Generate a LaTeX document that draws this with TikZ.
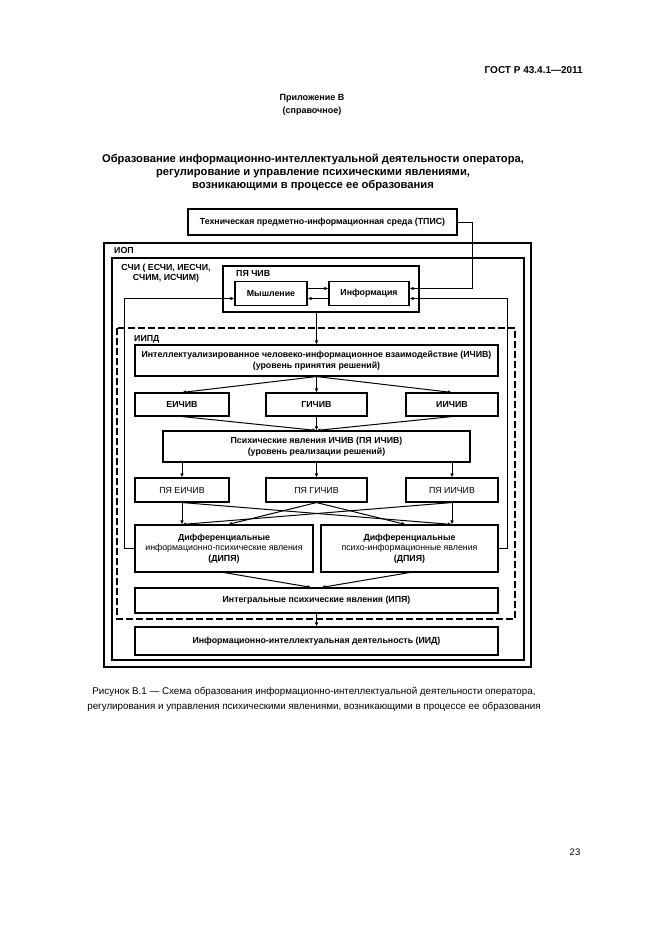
\documentclass[tikz,border=0pt]{standalone}
\usepackage{fontspec}
\setmainfont{Liberation Sans}
\usepackage{tikz}
\usetikzlibrary{arrows.meta}

\tikzset{
  blk/.style={draw, line width=1.1pt, inner sep=0pt, align=center, font=\fontsize{8.8}{10.5}\selectfont\bfseries},
  thinblk/.style={blk, font=\fontsize{8.8}{10.5}\selectfont},
  lbl/.style={inner sep=0pt, align=center, font=\fontsize{8.8}{10.5}\selectfont\bfseries},
  conn/.style={line width=1pt, -{Latex[length=4pt,width=3.5pt]}},
}

\begin{document}
\begin{tikzpicture}[x=1pt,y=-1pt]
\useasboundingbox (0,0) rectangle (661,935);

% page head
\node[inner sep=0pt, anchor=east, font=\fontsize{10}{12}\selectfont\bfseries] (gost) at (583,70) {ГОСТ Р 43.4.1—2011};
\node[inner sep=0pt, align=center, font=\fontsize{9}{13}\selectfont\bfseries] (app) at (312,104.5) {Приложение В\\(справочное)};
\node[inner sep=0pt, align=center, font=\fontsize{11.2}{13}\selectfont\bfseries] (title) at (313,172)
  {Образование информационно-интеллектуальной деятельности оператора,\\регулирование и управление психическими явлениями,\\возникающими в процессе ее образования};

% frames
\draw[line width=1.2pt] (104,243) rectangle (531,667);
\node[lbl, anchor=west] (iop) at (114,250) {ИОП};
\draw[line width=2.6pt] (112,258) rectangle (524,660);
\node[lbl] (schi) at (166,273) {СЧИ ( ЕСЧИ, ИЕСЧИ,\\СЧИМ, ИСЧИМ)};
\draw[line width=1.2pt, dash pattern=on 7pt off 3pt] (117,328) rectangle (515,619);
\node[lbl, anchor=west] (iipd) at (134,339) {ИИПД};

% boxes
\node[blk, minimum width=269pt, minimum height=26pt] (tpis) at (322.5,222) {Техническая предметно-информационная среда (ТПИС)};
\node[draw, line width=1.1pt, minimum width=196pt, minimum height=46pt] (pyachiv) at (321,289) {};
\node[lbl, anchor=west] (pyachivlbl) at (236,273) {ПЯ ЧИВ};
\node[blk, minimum width=72pt, minimum height=24pt] (mysh) at (271,293.5) {Мышление};
\node[blk, minimum width=80pt, minimum height=24pt] (inform) at (369,293.5) {Информация};

\node[blk, minimum width=363pt, minimum height=31pt] (ichiv) at (316.5,360.5) {Интеллектуализированное человеко-информационное взаимодействие (ИЧИВ)\\(уровень принятия решений)};
\node[blk, minimum width=94pt, minimum height=23pt] (eichiv) at (182,404.5) {ЕИЧИВ};
\node[blk, minimum width=101pt, minimum height=23pt] (gichiv) at (316.5,404.5) {ГИЧИВ};
\node[blk, minimum width=92pt, minimum height=23pt] (iichiv) at (452,404.5) {ИИЧИВ};
\node[blk, minimum width=307pt, minimum height=31pt] (pyaichiv) at (316.5,446.5) {Психические явления ИЧИВ (ПЯ ИЧИВ)\\(уровень реализации решений)};
\node[thinblk, minimum width=94pt, minimum height=24pt] (peichiv) at (182,490) {ПЯ ЕИЧИВ};
\node[thinblk, minimum width=101pt, minimum height=24pt] (pgichiv) at (316.5,490) {ПЯ ГИЧИВ};
\node[thinblk, minimum width=92pt, minimum height=24pt] (piichiv) at (452,490) {ПЯ ИИЧИВ};
\node[blk, minimum width=178pt, minimum height=47pt] (dipya) at (224,548.5) {Дифференциальные\\{\mdseries информационно-психические явления}\\(ДИПЯ)};
\node[blk, minimum width=177pt, minimum height=47pt] (dpiya) at (409.5,548.5) {Дифференциальные\\{\mdseries психо-информационные явления}\\(ДПИЯ)};
\node[blk, minimum width=363pt, minimum height=25pt] (ipya) at (316.5,600.5) {Интегральные психические явления (ИПЯ)};
\node[blk, minimum width=363pt, minimum height=28pt] (iid) at (316.5,641) {Информационно-интеллектуальная деятельность (ИИД)};

% connectors
\draw[conn] (tpis.east) -- ++(15,0) |- ([yshift=5pt]inform.east);
\draw[conn] ([yshift=5pt]mysh.east) -- ([yshift=5pt]inform.west);
\draw[conn] ([yshift=-5pt]inform.west) -- ([yshift=-5pt]mysh.east);
\draw[conn] (dipya.west) -- ++(-10,0) |- ([yshift=-5pt]mysh.west);
\draw[conn] (dpiya.east) -- ++(9,0) |- ([yshift=-5pt]inform.east);
\draw[conn] (ichiv.north |- pyachiv.south) -- (ichiv.north);
\foreach \b in {eichiv, gichiv, iichiv} {
  \draw[conn] (ichiv.south) -- (\b.north);
  \draw[conn] (\b.south) -- (pyaichiv.north);
  \draw[conn] (pyaichiv.south -| \b.north) -- (\b.north |- peichiv.north);
}
\draw[conn] (peichiv.south) -- (peichiv.south |- dipya.north);
\draw[conn] (piichiv.south) -- (piichiv.south |- dpiya.north);
\draw[conn] (peichiv.south) -- (piichiv.south |- dpiya.north);
\draw[conn] (piichiv.south) -- (peichiv.south |- dipya.north);
\draw[conn] (pgichiv.south) -- ([xshift=4pt]dipya.north);
\draw[conn] (pgichiv.south) -- ([xshift=-4pt]dpiya.north);
\draw[conn] (dipya.south) -- ([xshift=-5pt]ipya.north);
\draw[conn] (dpiya.south) -- ([xshift=5pt]ipya.north);
\draw[conn] (ipya.south) -- (iid.north);

% caption
\node[inner sep=0pt, align=center, font=\fontsize{9.8}{15}\selectfont] (caption) at (314,699.5)
  {Рисунок В.1 — Схема образования информационно-интеллектуальной деятельности оператора,\\регулирования и управления психическими явлениями, возникающими в процессе ее образования};
\node[inner sep=0pt, font=\fontsize{9.5}{11}\selectfont] (pagenum) at (575,852) {23};
\end{tikzpicture}
\end{document}
